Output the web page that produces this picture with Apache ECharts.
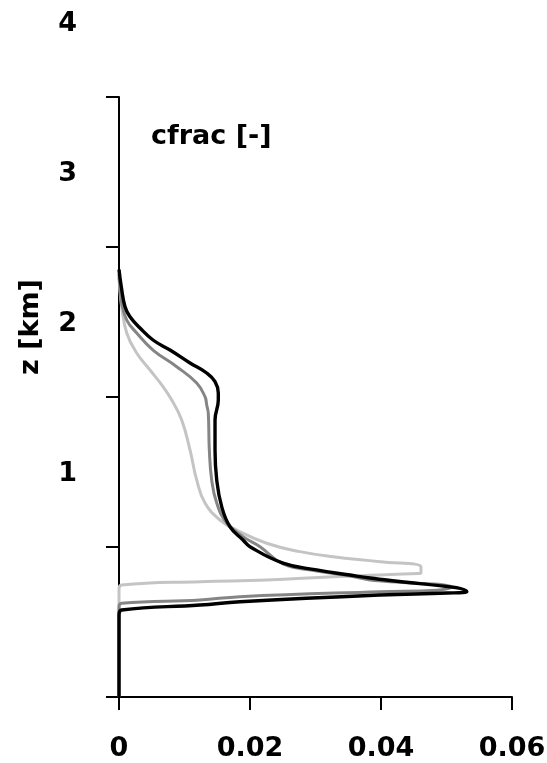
<!DOCTYPE html>
<html>
<head>
<meta charset="utf-8">
<script src="https://cdn.jsdelivr.net/npm/echarts@6/dist/echarts.min.js"></script>
<style>html,body{margin:0;padding:0;background:#fff}#c{width:547px;height:763px}</style>
</head>
<body>
<div id="c"></div>
<script>
// cfrac [-] vs z [km], three profiles (light grey, grey, black)
var xTicks = [0, 0.02, 0.04, 0.06];
var zTicks = [0, 1, 2, 3, 4];

var lightZ = [0, 0.72, 0.747, 0.769, 0.78, 0.802, 0.813, 0.82, 0.827, 0.867, 0.902, 0.935, 0.969, 1.025, 1.113, 1.18, 1.293, 1.447, 1.647, 1.847, 1.98, 2.069, 2.18, 2.293, 2.427, 2.602, 2.72, 2.8];
var lightX = [0, 0, 0.0004, 0.01237, 0.02255, 0.03267, 0.03985, 0.04336, 0.0461, 0.0461, 0.03985, 0.03267, 0.02763, 0.02255, 0.01797, 0.01542, 0.01313, 0.01186, 0.01084, 0.00957, 0.00805, 0.00672, 0.00473, 0.0027, 0.00118, 0.00041, 0.00012, 0];

var grayZ = [0, 0.6, 0.625, 0.647, 0.669, 0.702, 0.712, 0.733, 0.78, 0.807, 0.84, 0.887, 1.002, 1.069, 1.16, 1.293, 1.447, 1.647, 1.893, 1.947, 2.002, 2.093, 2.202, 2.313, 2.427, 2.513, 2.627, 2.74, 2.82];
var grayX = [0, 0, 0.0004, 0.01237, 0.01847, 0.03985, 0.04855, 0.0508, 0.03832, 0.03527, 0.03018, 0.02504, 0.02153, 0.01893, 0.01644, 0.01492, 0.01415, 0.01379, 0.01363, 0.01339, 0.01313, 0.01186, 0.00881, 0.00519, 0.0027, 0.00118, 0.00041, 0.00012, 0];

var blackZ = [0, 0.547, 0.58, 0.613, 0.635, 0.68, 0.693, 0.702, 0.793, 0.813, 0.847, 0.893, 1.002, 1.047, 1.135, 1.269, 1.447, 1.647, 1.847, 1.98, 2.027, 2.102, 2.16, 2.227, 2.313, 2.38, 2.46, 2.535, 2.602, 2.735, 2.85];
var blackX = [0, 0, 0.0004, 0.01237, 0.01847, 0.03985, 0.0501, 0.0531, 0.03832, 0.03527, 0.03018, 0.02504, 0.02, 0.01893, 0.01695, 0.01568, 0.01492, 0.01466, 0.01466, 0.01516, 0.01516, 0.01466, 0.01339, 0.01084, 0.00779, 0.00519, 0.00321, 0.00168, 0.00092, 0.00035, 0];

function pairs(xs, zs) { return xs.map(function (v, i) { return [v, zs[i]]; }); }

var FONT = 'DejaVu Sans';
var chart = echarts.init(document.getElementById('c'), null, {renderer: 'canvas'});
chart.setOption({
  animation: false,
  backgroundColor: '#fff',
  title: {
    text: 'cfrac [-]', left: 146, top: 118,
    textStyle: {fontFamily: FONT, fontWeight: 'bold', fontSize: 27, color: '#000'}
  },
  grid: {left: 119, right: 35, top: 97, bottom: 66, containLabel: false, outerBoundsMode: 'none'},
  xAxis: {
    type: 'value', min: xTicks[0], max: xTicks[xTicks.length - 1], interval: 0.02,
    splitLine: {show: false},
    axisLine: {lineStyle: {color: '#000', width: 2}},
    axisTick: {length: 13, lineStyle: {color: '#000', width: 2}},
    axisLabel: {
      margin: 38, color: '#000', fontFamily: FONT, fontWeight: 'bold', fontSize: 27,
      formatter: function (v) { return v === 0 ? '0' : v.toFixed(2); }
    }
  },
  yAxis: {
    type: 'value', min: zTicks[0], max: zTicks[zTicks.length - 1], interval: 1,
    splitLine: {show: false},
    axisLine: {lineStyle: {color: '#000', width: 2}},
    axisTick: {length: 13, lineStyle: {color: '#000', width: 2}},
    axisLabel: {
      margin: 42, color: '#000', fontFamily: FONT, fontWeight: 'bold', fontSize: 27,
      verticalAlign: 'bottom', lineHeight: 146, hideOverlap: false,
      showMinLabel: true, showMaxLabel: true,
      formatter: function (v) { return v === 0 ? '' : String(v); }
    }
  },
  graphic: [{
    type: 'text', x: 31, y: 327, rotation: Math.PI / 2,
    style: {text: 'z [km]', fontFamily: FONT, fontWeight: 'bold', fontSize: 27, fill: '#000',
      align: 'center', verticalAlign: 'middle'}
  }],
  series: [
    {type: 'line', data: pairs(lightX, lightZ), showSymbol: false, smooth: 0.45,
     lineStyle: {color: '#c4c4c4', width: 3}},
    {type: 'line', data: pairs(grayX, grayZ), showSymbol: false, smooth: 0.45,
     lineStyle: {color: '#858585', width: 3}},
    {type: 'line', data: pairs(blackX, blackZ), showSymbol: false, smooth: 0.45,
     lineStyle: {color: '#000', width: 3.4}}
  ]
});
</script>
</body>
</html>
